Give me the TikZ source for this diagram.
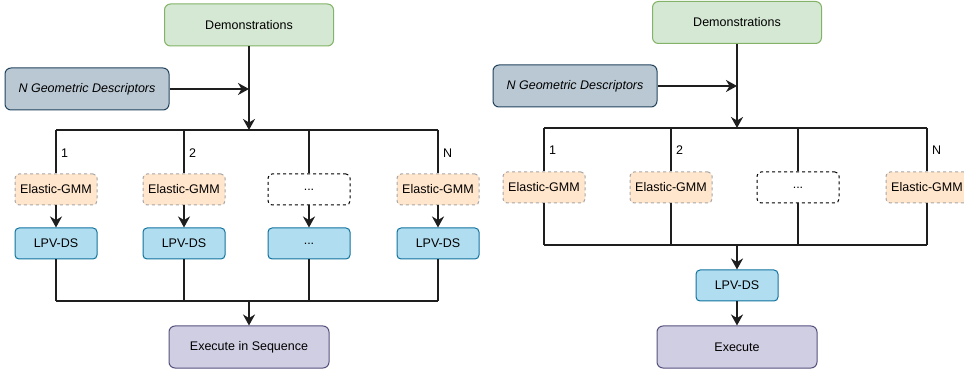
\documentclass[tikz,border=0pt]{standalone}
\usepackage{fontspec}
\setmainfont{Liberation Sans}
\usepackage{xcolor}
\usepackage{tikz}
\usetikzlibrary{arrows.meta, positioning}
\definecolor{demoFill}{HTML}{D5E8D4}
\definecolor{demoLine}{HTML}{82B366}
\definecolor{geoFill}{HTML}{BAC8D3}
\definecolor{geoLine}{HTML}{23445D}
\definecolor{gmmFill}{HTML}{FFE6CC}
\definecolor{gmmLine}{HTML}{A6A6A6}
\definecolor{lpvFill}{HTML}{B1DDF0}
\definecolor{lpvLine}{HTML}{10739E}
\definecolor{exeFill}{HTML}{D0CEE2}
\definecolor{exeLine}{HTML}{56517E}
\definecolor{wire}{HTML}{1E1E1E}

\begin{document}
\begin{tikzpicture}[x=1pt, y=-1pt,
    font=\fontsize{12.5}{15}\selectfont,
    box/.style={draw, line width=1pt, rounded corners=6pt, align=center, inner sep=0pt},
    demo/.style={box, fill=demoFill, draw=demoLine, minimum width=169pt, minimum height=42pt},
    geo/.style={box, fill=geoFill, draw=geoLine, minimum width=164pt, minimum height=42pt, font=\fontsize{12.5}{15}\selectfont\itshape},
    gmm/.style={box, rounded corners=4pt, dashed, fill=gmmFill, draw=gmmLine, minimum width=82pt, minimum height=31pt},
    dots/.style={gmm, fill=white, draw=black},
    lpv/.style={box, rounded corners=4pt, fill=lpvFill, draw=lpvLine, minimum width=82pt, minimum height=31pt},
    exe/.style={box, fill=exeFill, draw=exeLine, minimum width=160pt, minimum height=42pt},
    wire/.style={draw=wire, line width=1.7pt},
    flow/.style={wire, -{Stealth[length=11pt, width=12pt, inset=3.5pt]}},
    idx/.style={anchor=west, inner sep=1pt}]
\useasboundingbox (0,0) rectangle (964,371);

% left: one LPV-DS per descriptor
\node[demo] (demoA) at (249,25) {Demonstrations};
\node[geo] (geoA) at (87,89) {N Geometric Descriptors};
\coordinate (joinA) at (249,89);
\coordinate (topA) at (249,130);
\coordinate (botA) at (249,301);
\foreach \i/\x/\t in {1/56/Elastic-GMM, 2/184/Elastic-GMM, 4/438/Elastic-GMM} {
    \node[gmm] (gmmA\i) at (\x,189.5) {\t};
    \node[lpv] (lpvA\i) at (\x,243.5) {LPV-DS};
}
\node[dots] (gmmA3) at (309,189.5) {...};
\node[lpv] (lpvA3) at (309,243.5) {...};
\foreach \i in {1,...,4} {
    \coordinate (upA\i) at (gmmA\i.north |- topA);
    \coordinate (dnA\i) at (lpvA\i.south |- botA);
    \draw[wire] (upA\i) -- (gmmA\i.north);
    \draw[flow] (gmmA\i.south) -- (lpvA\i.north);
    \draw[wire] (lpvA\i.south) -- (dnA\i);
}
\node[idx] (nA1) at (60,153) {1};
\node[idx] (nA2) at (188,153) {2};
\node[idx] (nA4) at (442,153) {N};
\node[exe] (exeA) at (249,347) {Execute in Sequence};
\draw[wire] (upA1) -- (upA4);
\draw[wire] (dnA1) -- (dnA4);
\draw[flow] (demoA) -- (topA);
\draw[flow] (geoA) -- (joinA);
\draw[flow] (botA) -- (exeA);

% right: one shared LPV-DS
\node[demo] (demoB) at (737,22.5) {Demonstrations};
\node[geo] (geoB) at (575,86) {N Geometric Descriptors};
\coordinate (joinB) at (737,86);
\coordinate (topB) at (737,128);
\coordinate (botB) at (737,245);
\foreach \i/\x in {1/544, 2/671, 4/927} {
    \node[gmm] (gmmB\i) at (\x,187.5) {Elastic-GMM};
}
\node[dots] (gmmB3) at (798,187.5) {...};
\foreach \i in {1,...,4} {
    \coordinate (upB\i) at (gmmB\i.north |- topB);
    \coordinate (dnB\i) at (gmmB\i.south |- botB);
    \draw[wire] (upB\i) -- (gmmB\i.north);
    \draw[wire] (gmmB\i.south) -- (dnB\i);
}
\node[idx] (nB1) at (548,150) {1};
\node[idx] (nB2) at (675,150) {2};
\node[idx] (nB4) at (931,150) {N};
\node[lpv] (lpvB) at (737,285.5) {LPV-DS};
\node[exe] (exeB) at (737,347) {Execute};
\draw[wire] (upB1) -- (upB4);
\draw[wire] (dnB1) -- (dnB4);
\draw[flow] (demoB) -- (topB);
\draw[flow] (geoB) -- (joinB);
\draw[flow] (botB) -- (lpvB);
\draw[flow] (lpvB) -- (exeB);
\end{tikzpicture}
\end{document}
